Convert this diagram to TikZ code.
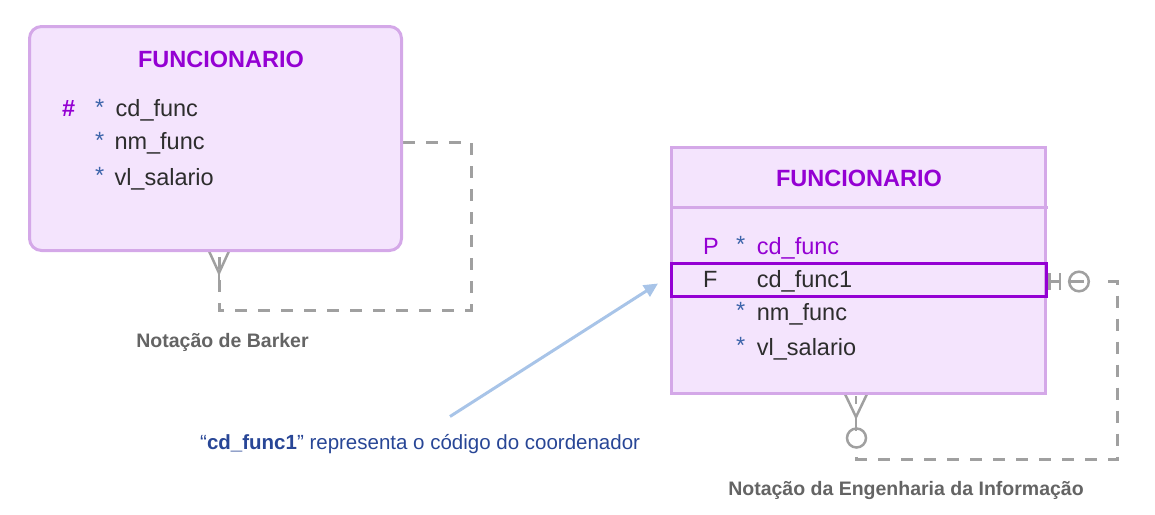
\documentclass[tikz,border=0pt]{standalone}
\usepackage{fontspec}
\setmainfont{Liberation Sans}
\usetikzlibrary{backgrounds,arrows.meta}
\definecolor{fillc}{RGB}{244,228,253}
\definecolor{borderc}{RGB}{212,168,232}
\definecolor{purp}{RGB}{148,0,211}
\definecolor{starc}{RGB}{60,100,170}
\definecolor{txt}{RGB}{45,45,45}
\definecolor{relc}{RGB}{160,160,160}
\definecolor{arrowc}{RGB}{168,196,232}
\definecolor{capc}{RGB}{40,70,150}
\definecolor{labc}{RGB}{100,100,100}
\begin{document}
\begin{tikzpicture}[x=1pt,y=-1pt,
  ent/.style={draw=borderc, fill=fillc, line width=3pt, inner sep=0pt},
  ttl/.style={font={\fontsize{23.5}{28}\selectfont\bfseries}, text=purp, inner sep=0pt, anchor=base},
  attr/.style={font={\fontsize{23.5}{28}\selectfont}, text=txt, inner sep=0pt, anchor=base west},
  star/.style={attr, text=starc},
  rel/.style={draw=relc, line width=3pt, dash pattern=on 12pt off 11pt},
  relsolid/.style={draw=relc, line width=2.5pt},
  lab/.style={font={\fontsize{19.5}{24}\selectfont\bfseries}, text=labc, inner sep=0pt, anchor=base},
]
\useasboundingbox (0,0) rectangle (1155,514);

% ---------- left entity (Barker) ----------
\node[ent, rounded corners=12pt, minimum width=372pt, minimum height=224pt] (lbox) at (215.5,138.5) {};
\node[ttl] (lt) at (221,67) {FUNCIONARIO};
\node[attr, font={\fontsize{23.5}{28}\selectfont\bfseries}, text=purp] (lh) at (62,116.5) {\#};
\node[star] (ls1) at (95,115) {*};
\node[star] (ls2) at (95,148) {*};
\node[star] (ls3) at (95,183.5) {*};
\node[attr] (la1) at (115.5,116.5) {cd\_func};
\node[attr] (la2) at (114.3,149.5) {nm\_func};
\node[attr] (la3) at (114.3,185) {vl\_salario};

% ---------- right entity (IE) ----------
\node[ent, minimum width=374pt, minimum height=246pt] (rbox) at (858.5,270.5) {};
\draw[draw=borderc, line width=3pt] (672,207) -- (1048,207);
\node[ttl] (rt) at (859,186) {FUNCIONARIO};
\node[draw=purp, line width=3pt, minimum width=375pt, minimum height=33pt, inner sep=0pt] (hl) at (859,280) {};
\node[attr, text=purp] (rp) at (703,254) {P};
\node[star] (rs1) at (736,252.5) {*};
\node[attr, text=purp] (ra1) at (756.7,254) {cd\_func};
\node[attr] (rf) at (703,287) {F};
\node[attr] (ra2) at (756.7,287) {cd\_func1};
\node[star] (rs3) at (736,318.5) {*};
\node[attr] (ra3) at (756.7,320) {nm\_func};
\node[star] (rs4) at (736,353.5) {*};
\node[attr] (ra4) at (756.7,355) {vl\_salario};

% ---------- labels ----------
\node[lab] (lbl1) at (222.5,347) {Notação de Barker};
\node[lab] (lbl2) at (906,495) {Notação da Engenharia da Informação};
\node[font={\fontsize{20.5}{24}\selectfont}, text=capc, anchor=base west, inner sep=0pt] (cap) at (200,449) {“\textbf{cd\_func1}” representa o código do coordenador};

% ---------- connectors ----------
\begin{scope}[on background layer]
  % Barker recursive relationship
  \coordinate (lA) at (471,142);
  \coordinate (lB) at (471,310);
  \coordinate (lC) at (219,310);
  \coordinate (lD) at (219,252);
  \draw[rel] (lbox.east |- lA) -- (lA) -- (lB) -- (lC) -- (lD);
  \coordinate (lF) at (219,273);
  \draw[relsolid] (208.5,250) -- (lF) -- (229.5,250);
  \draw[relsolid] (lF) -- (219,285);

  % IE recursive relationship
  \coordinate (rA) at (1117,281.5);
  \coordinate (rB) at (1117,459);
  \coordinate (rC) at (856.5,459);
  \coordinate (rD) at (856.5,448);
  \coordinate (rE) at (1108,281.5);
  \draw[rel] (rE) -- (rA) -- (rB) -- (rC) -- (rD);
  % one-optional end (right)
  \draw[relsolid] (hl.east |- rA) -- (1060,281.5);
  \draw[relsolid] (1049.5,273) -- (1049.5,290);
  \draw[relsolid] (1060,273) -- (1060,290);
  \draw[relsolid] (1079,281.5) circle (9.8);
  \draw[relsolid] (1069,281.5) -- (1084,281.5);
  % many-optional end (bottom)
  \coordinate (rF) at (856,417);
  \draw[relsolid] (845,394) -- (rF) -- (867,394);
  \draw[relsolid] (856,396) -- (856,404);
  \draw[relsolid] (rF) -- (856,431);
  \draw[relsolid] (856.5,438) circle (9.5);
\end{scope}

% ---------- annotation arrow ----------
\coordinate (aS) at (450,416.5);
\coordinate (aT) at (658,283.5);
\draw[draw=arrowc, line width=3pt, -{Triangle[length=14pt,width=13pt]}] (aS) -- (aT);
\end{tikzpicture}
\end{document}
